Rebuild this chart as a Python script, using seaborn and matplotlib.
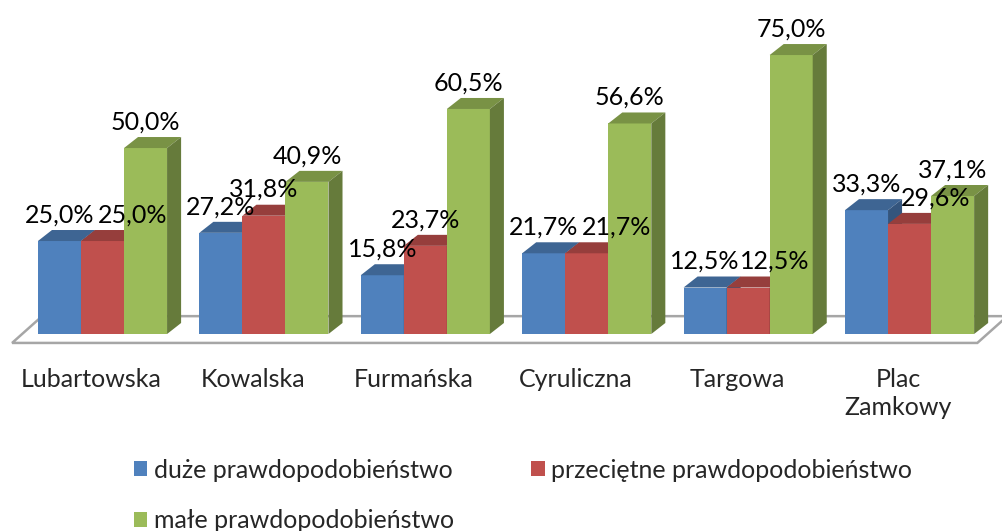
import numpy as np
import pandas as pd
import matplotlib
matplotlib.use("Agg")
import matplotlib.pyplot as plt
import matplotlib.colors as mcolors
from matplotlib.patches import Polygon
import seaborn as sns

# data
streets = ["Lubartowska", "Kowalska", "Furmańska", "Cyruliczna", "Targowa", "Plac\nZamkowy"]
series = ["duże prawdopodobieństwo", "przeciętne prawdopodobieństwo", "małe prawdopodobieństwo"]
duze = [25.0, 27.2, 15.8, 21.7, 12.5, 33.3]
przecietne = [25.0, 31.8, 23.7, 21.7, 12.5, 29.6]
male = [50.0, 40.9, 60.5, 56.6, 75.0, 37.1]
colors = ["#4F81BD", "#C0504D", "#9BBB59"]

df = pd.DataFrame({
    "ulica": streets * 3,
    "seria": [s for s in series for _ in streets],
    "wartosc": duze + przecietne + male,
})

sns.set_theme(style="white")
plt.rcParams["font.family"] = ["Lato", "DejaVu Sans"]
FS = 18

fig = plt.figure(figsize=(10.03, 5.31), dpi=100)
ax = fig.add_axes([0, 181 / 531, 1, 350 / 531])

sns.barplot(data=df, x="ulica", y="wartosc", hue="seria", order=streets,
            hue_order=series, palette=colors, saturation=1, width=0.8,
            linewidth=0, ax=ax, legend=True)

ax.set_xlim(-0.635, 5.579)
ax.set_ylim(-4.3, 89.8)

# 3D depth of bars (x units, percent units)
dx, dy = 0.087, 2.96

def shade(c, f):
    r, g, b = mcolors.to_rgb(c)
    return (r * f, g * f, b * f)

bars = [p for p in ax.patches if p.get_height() > 0]
bars.sort(key=lambda p: p.get_x())
# left to right, so the next bar covers the side of the previous one
for i, p in enumerate(bars):
    x0, w, h = p.get_x(), p.get_width(), p.get_height()
    fc = p.get_facecolor()
    z = 3 + i * 0.1
    p.set_zorder(z)
    ax.add_patch(Polygon([(x0, h), (x0 + w, h), (x0 + w + dx, h + dy), (x0 + dx, h + dy)],
                         closed=True, fc=shade(fc, 0.78), ec="none", zorder=z))
    ax.add_patch(Polygon([(x0 + w, 0), (x0 + w + dx, dy), (x0 + w + dx, h + dy), (x0 + w, h)],
                         closed=True, fc=shade(fc, 0.66), ec="none", zorder=z))

# value labels
texts = []
for p in bars:
    x0, w, h = p.get_x(), p.get_width(), p.get_height()
    txt = f"{h:.1f}%".replace(".", ",")
    t = ax.text(x0 + w / 2, h + dy + 1.0, txt, ha="center", va="bottom",
                fontsize=FS, color="black", zorder=10)
    texts.append((t, h))

# floor
floor = Polygon([(-0.56, -2.4), (5.42, -2.4), (5.606, 4.8), (-0.374, 4.8)],
                closed=True, fc="white", ec="#A6A6A6", lw=1.8, zorder=1)
ax.add_patch(floor)

ax.set_xticks(np.arange(len(streets)) - 0.07)
ax.set_xticklabels(streets, fontsize=FS, linespacing=1.25)
ax.tick_params(axis="x", length=0, pad=13)
ax.set_yticks([])
ax.set_xlabel("")
ax.set_ylabel("")
for s in ax.spines.values():
    s.set_visible(False)

# nudge a label to the right when it sits on the same level as its left neighbour
fig.canvas.draw()
r = fig.canvas.get_renderer()
px_per_unit = ax.transData.transform((1, 0))[0] - ax.transData.transform((0, 0))[0]
for i in range(1, len(texts)):
    if i % 3 == 0:
        continue
    (prev, hp), (cur, hc) = texts[i - 1], texts[i]
    if abs(hc - hp) < 4.2:
        bp = prev.get_window_extent(r)
        bc = cur.get_window_extent(r)
        shift = bp.x1 - bc.x0 + (4 if hc == hp and i % 3 == 1 and hc > 20 else 0)
        if shift > 0:
            cur.set_x(cur.get_position()[0] + shift / px_per_unit)

handles, labels = ax.get_legend_handles_labels()
ax.get_legend().remove()
order = [0, 2, 1]
fig.legend([handles[i] for i in order], [labels[i] for i in order],
           loc="upper left", bbox_to_anchor=(111 / 1003, 1 - 436 / 531),
           ncol=2, frameon=False, fontsize=FS, handlelength=0.55, handleheight=0.55,
           handletextpad=0.25, columnspacing=3.1, labelspacing=1.1)

fig.savefig("out.png", dpi=100)
